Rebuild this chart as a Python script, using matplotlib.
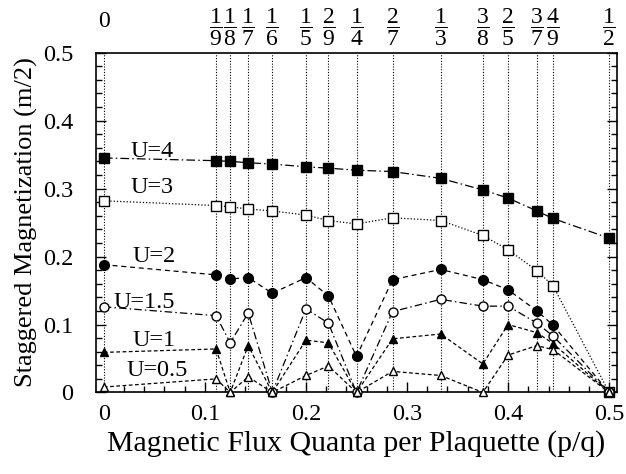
import matplotlib
matplotlib.use('Agg')
import matplotlib.pyplot as plt
from matplotlib.ticker import MultipleLocator
from matplotlib.transforms import blended_transform_factory

plt.rcParams['font.family'] = ['Liberation Serif', 'DejaVu Serif']
plt.rcParams['mathtext.fontset'] = 'custom'
plt.rcParams['mathtext.rm'] = 'Liberation Serif'
plt.rcParams['mathtext.it'] = 'Liberation Serif'

# flux values p/q
frac_num = [0, 1, 1, 1, 1, 1, 2, 1, 2, 1, 3, 2, 3, 4, 1]
frac_den = [1, 9, 8, 7, 6, 5, 9, 4, 7, 3, 8, 5, 7, 9, 2]
flux = [n / d for n, d in zip(frac_num, frac_den)]

# staggered magnetization for each U
m_u4 = [0.345, 0.341, 0.340, 0.338, 0.336, 0.332, 0.330, 0.327, 0.325, 0.315,
        0.298, 0.286, 0.267, 0.256, 0.227]
m_u3 = [0.282, 0.275, 0.273, 0.270, 0.267, 0.261, 0.253, 0.248, 0.257, 0.253,
        0.231, 0.210, 0.179, 0.157, 0.0]
m_u2 = [0.188, 0.173, 0.167, 0.169, 0.146, 0.169, 0.142, 0.053, 0.166, 0.181,
        0.166, 0.151, 0.120, 0.099, 0.0]
m_u15 = [0.126, 0.113, 0.073, 0.117, 0.0, 0.123, 0.102, 0.0, 0.119, 0.137,
         0.127, 0.127, 0.102, 0.083, 0.0]
m_u1 = [0.059, 0.064, 0.0, 0.069, 0.0, 0.077, 0.073, 0.0, 0.079, 0.086,
        0.042, 0.100, 0.088, 0.072, 0.0]
m_u05 = [0.008, 0.020, 0.0, 0.023, 0.0, 0.025, 0.039, 0.0, 0.031, 0.025,
         0.0, 0.055, 0.069, 0.063, 0.0]

labels = ['U=4', 'U=3', 'U=2', 'U=1.5', 'U=1', 'U=0.5']
label_pos = [(0.048, 0.355), (0.048, 0.302), (0.050, 0.200),
             (0.040, 0.133), (0.050, 0.076), (0.053, 0.033)]

xticks = [0, 0.1, 0.2, 0.3, 0.4, 0.5]
yticks = [0, 0.1, 0.2, 0.3, 0.4, 0.5]
tick_labels = ['0', '0.1', '0.2', '0.3', '0.4', '0.5']

series = [m_u4, m_u3, m_u2, m_u15, m_u1, m_u05]
markers = ['s', 's', 'o', 'o', '^', '^']
filled = [True, False, True, False, True, False]
msizes = [7.5, 7, 7, 6.5, 6, 6]
dashes = [(7, 2.5, 1.2, 2.5), (1, 1.6), (4, 3), (6, 2.5, 1.2, 2.5), (3, 2), (3, 2)]

fig = plt.figure(figsize=(6.26, 4.74), dpi=100)
ax = fig.add_axes([0.153, 0.172, 0.833, 0.717])

# dotted guide at every rational flux
for x in flux:
    ax.axvline(x, color='black', lw=0.8, ls=(0, (1, 1.5)), zorder=1)

for y, mk, fl, ms, ds in zip(series, markers, filled, msizes, dashes):
    ax.plot(flux, y, color='black', lw=0.9, dashes=ds, zorder=2)
    ax.plot(flux, y, ls='none', marker=mk, ms=ms, mec='black', mew=1.0,
            mfc='black' if fl else 'white', zorder=3, clip_on=False)

for lab, (lx, ly) in zip(labels, label_pos):
    ax.text(lx, ly, lab, fontsize=17.5, ha='center', va='center', zorder=4)

ax.set_xlim(-0.008, 0.508)
ax.set_ylim(0, 0.5)
ax.set_xticks(xticks)
ax.set_xticklabels(tick_labels, fontsize=17.5)
ax.set_yticks(yticks)
ax.set_yticklabels(tick_labels, fontsize=17.5)
ax.xaxis.set_minor_locator(MultipleLocator(0.02))
ax.yaxis.set_minor_locator(MultipleLocator(0.02))
ax.tick_params(which='both', direction='in', top=True, right=True, width=1)
ax.tick_params(axis='x', which='major', length=7, pad=8)
ax.tick_params(axis='y', which='major', length=7, pad=16)
ax.tick_params(which='minor', length=4)
for sp in ax.spines.values():
    sp.set_linewidth(1.2)

ax.set_xlabel('Magnetic Flux Quanta per Plaquette (p/q)', fontsize=21.5, labelpad=4)
ax.set_ylabel('Staggered Magnetization (m/2)', fontsize=19, labelpad=4)

# fraction labels along the top
top = ax.twiny()
top.set_xlim(ax.get_xlim())
top.set_xticks(flux)
top_labels = [''] + [r'$\dfrac{%d}{%d}$' % (n, d)
                     for n, d in zip(frac_num[1:], frac_den[1:])]
top.set_xticklabels(top_labels, fontsize=17)
top.tick_params(axis='x', length=0, pad=3)
for sp in top.spines.values():
    sp.set_visible(False)
top.text(0, 0.955, '0', fontsize=17, ha='center', va='center',
         transform=blended_transform_factory(top.transData, fig.transFigure))

fig.savefig('out.png', dpi=100)
